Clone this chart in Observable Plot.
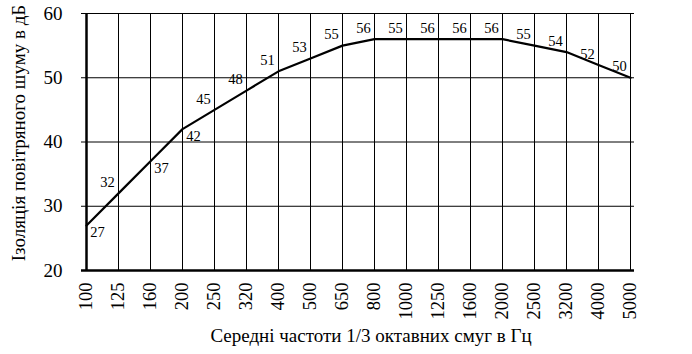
<!DOCTYPE html>
<html><head><meta charset="utf-8">
<script src="https://cdn.jsdelivr.net/npm/d3@7"></script>
<script src="https://cdn.jsdelivr.net/npm/@observablehq/plot@0.6"></script>
<style>
body{margin:0;background:#fff}
#chart svg, #chart svg text {font-family: "Liberation Serif", "Times New Roman", serif !important;}
</style>
</head><body><div id="chart"></div>
<script>
const frequencies = ["100","125","160","200","250","320","400","500","650","800","1000","1250","1600","2000","2500","3200","4000","5000"];
const curveValues = [27,32,37,42,45,48,51,53,55,56,56,56,56,56,55,54,52,50];
const labelValues = [27,32,37,42,45,48,51,53,55,56,55,56,56,56,55,54,52,50];
const yTicks = [20,30,40,50,60];
const yTitle = "Ізоляція повітряного шуму в дБ";
const xTitle = "Середні частоти 1/3 октавних смуг в Гц";

const data = frequencies.map((f,i)=>({f, v: curveValues[i], label: labelValues[i], i}));
const belowIdx = new Set([0,2,3]);
const font = '"Liberation Serif", "Times New Roman", serif';

const chart = Plot.plot({
  width: 692, height: 354,
  marginLeft: 81, marginRight: 58, marginTop: 13, marginBottom: 84,
  style: {fontFamily: font, background: "#fff", color: "#000"},
  x: {type: "point", domain: frequencies, padding: 0},
  y: {domain: [20,60]},
  marks: [
    Plot.ruleX(frequencies, {x: d=>d, stroke: "#000", strokeWidth: 1}),
    Plot.ruleY(yTicks, {y: d=>d, stroke: "#000", strokeWidth: 1}),
    Plot.ruleX([frequencies[0]], {x: d=>d, stroke: "#000", strokeWidth: 2.5}),
    Plot.ruleY([yTicks[0]], {y: d=>d, stroke: "#000", strokeWidth: 2.5}),
    Plot.axisY(yTicks, {ticks: yTicks, tickSize: 0, tickPadding: 19, fontSize: 19, label: null}),
    Plot.axisX({tickSize: 0, tickPadding: 12, tickRotate: -90, fontSize: 18.5, label: null}),
    Plot.line(data, {x: "f", y: "v", stroke: "#000", strokeWidth: 2.2}),
    Plot.text(data.filter(d=>!belowIdx.has(d.i)), {x: "f", y: "v", text: "label", dx: -11, dy: -11, fontSize: 14.5, fill: "#000"}),
    Plot.text(data.filter(d=>belowIdx.has(d.i)), {x: "f", y: "v", text: "label", dx: 11, dy: 7, fontSize: 14.5, fill: "#000"}),
    Plot.text([yTitle], {text: d=>d, frameAnchor: "left", textAnchor: "middle", lineAnchor: "middle", dx: -63, dy: -9, rotate: -90, fontSize: 19, fill: "#000"}),
    Plot.text([xTitle], {text: d=>d, frameAnchor: "bottom", textAnchor: "middle", lineAnchor: "middle", dy: 65, dx: 13, fontSize: 19, fill: "#000"})
  ]
});
document.getElementById("chart").append(chart);
</script></body></html>
